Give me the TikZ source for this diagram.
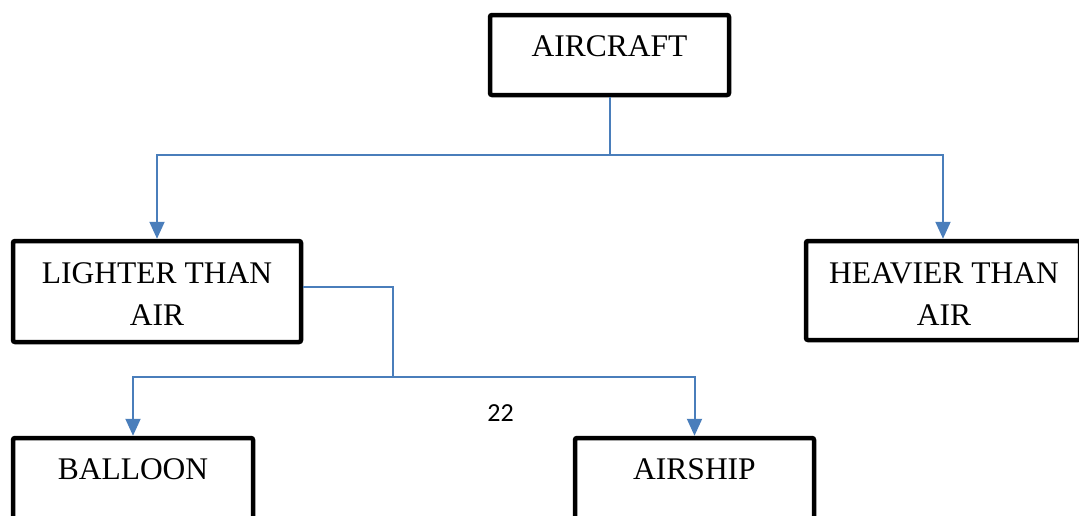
\documentclass[tikz,border=0pt]{standalone}
\usepackage{fontspec}
\setmainfont{Liberation Serif}
\newfontfamily\numfont{Carlito}
\usetikzlibrary{arrows.meta}
\definecolor{connblue}{RGB}{74,126,187}
\tikzset{
  box/.style={draw=black, line width=4.5pt, rounded corners=2pt, fill=white, inner sep=0pt},
  boxtext/.style={font=\fontsize{31.5}{42}\selectfont, align=center, inner sep=0pt, anchor=base},
  conn/.style={draw=connblue, line width=2pt},
  connarrow/.style={conn, -{Triangle[width=15pt,length=17pt]}}
}
\begin{document}
\begin{tikzpicture}[x=1pt,y=-1pt]
\useasboundingbox (0,0) rectangle (1079,515);
\clip (0,0) rectangle (1079,515);
% boxes
\node[box, minimum width=239pt, minimum height=80pt] (air) at (609.5,55) {};
\node[box, minimum width=288pt, minimum height=101pt] (lta) at (157,291.5) {};
\node[box, minimum width=274pt, minimum height=99pt] (hta) at (943,290.5) {};
\node[box, minimum width=240pt, minimum height=122pt] (bal) at (133,499) {};
\node[box, minimum width=239pt, minimum height=122pt] (shp) at (694.5,499) {};
% texts
\node[boxtext] (airt) at (609.5,56) {AIRCRAFT};
\node[boxtext] (ltat) at (157,325) {LIGHTER THAN\\AIR};
\node[boxtext] (htat) at (944,325) {HEAVIER THAN\\AIR};
\node[boxtext] (balt) at (133,479) {BALLOON};
\node[boxtext] (shpt) at (694.5,479) {AIRSHIP};
\node[font=\numfont\fontsize{26}{30}\selectfont, inner sep=0pt, anchor=base] (pg) at (500.5,421) {22};
% connectors
\coordinate (j1) at (609.5,155);
\coordinate (j2) at (393,377);
\draw[conn] (air.south) -- (j1);
\draw[connarrow] (j1) -| (lta.north);
\draw[connarrow] (j1) -| (hta.north);
\draw[conn] ([yshift=5pt]lta.east) -| (j2);
\draw[connarrow] (j2) -| (bal.north);
\draw[connarrow] (j2) -| (shp.north);
\end{tikzpicture}
\end{document}
